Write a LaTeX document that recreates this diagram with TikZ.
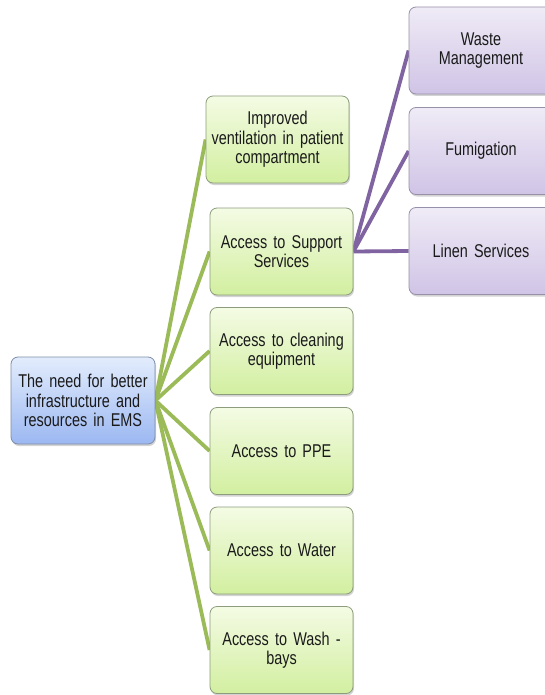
\documentclass[tikz,border=0pt]{standalone}
\usepackage{fontspec}
\newfontfamily\dfont[FakeStretch=0.78,WordSpace=0.6]{Liberation Sans}
\usetikzlibrary{shadows,backgrounds}
\definecolor{glinec}{HTML}{9BBB59}
\definecolor{plinec}{HTML}{8064A2}
\definecolor{gtop}{HTML}{F4FBE4}
\definecolor{gbot}{HTML}{D2EFA0}
\definecolor{gbord}{HTML}{8C9C7C}
\definecolor{ptop}{HTML}{EFEBF6}
\definecolor{pbot}{HTML}{D0C4E6}
\definecolor{pbord}{HTML}{9890A8}
\definecolor{btop}{HTML}{E2ECFC}
\definecolor{bbot}{HTML}{9CB8F2}
\definecolor{bbord}{HTML}{7E8EA8}
\definecolor{txt}{HTML}{1A1A1A}
\tikzset{
  box/.style={rectangle, rounded corners=7pt, minimum height=87pt, align=center,
    text=txt, font=\dfont\fontsize{18.5}{19.5}\selectfont, inner sep=2pt,
    line width=0.8pt,
    drop shadow={shadow xshift=1pt, shadow yshift=-2pt, opacity=0.35}},
  gbox/.style={box, draw=gbord, top color=gtop, bottom color=gbot, minimum width=143pt, text width=139pt},
  pbox/.style={box, draw=pbord, top color=ptop, bottom color=pbot, minimum width=144pt, text width=139pt},
  bbox/.style={box, draw=bbord, top color=btop, bottom color=bbot, minimum width=144pt, text width=140pt},
  gline/.style={draw=glinec, line width=3.8pt},
  pline/.style={draw=plinec, line width=3.8pt}
}
\begin{document}
\begin{tikzpicture}[x=1pt,y=-1pt]
\useasboundingbox (0,0) rectangle (545,695);
\clip (0,0) rectangle (545,695);
\node[bbox] (root) at (83,400.5) {The need for better\\infrastructure and\\resources in EMS};
\node[gbox, minimum width=141pt] (vent) at (277.5,139.5) {Improved\\ventilation in patient\\compartment};
\node[gbox] (supp) at (281.5,251.5) {Access to Support\\Services};
\node[gbox] (clean) at (281.5,351) {Access to cleaning\\equipment};
\node[gbox] (ppe) at (281.5,451) {Access to PPE};
\node[gbox] (water) at (281.5,550.5) {Access to Water};
\node[gbox] (wash) at (281.5,650) {Access to Wash -\\bays};
\node[pbox] (waste) at (481,50.5) {Waste\\Management};
\node[pbox] (fumi) at (481,151) {Fumigation};
\node[pbox] (linen) at (481,251) {Linen Services};
\begin{pgfonlayer}{background}
\foreach \n in {vent,supp,clean,ppe,water,wash}{
  \draw[gline] (root.east) -- (\n.west);
}
\foreach \n in {waste,fumi,linen}{
  \draw[pline] (supp.east) -- (\n.west);
}
\end{pgfonlayer}
\end{tikzpicture}
\end{document}
